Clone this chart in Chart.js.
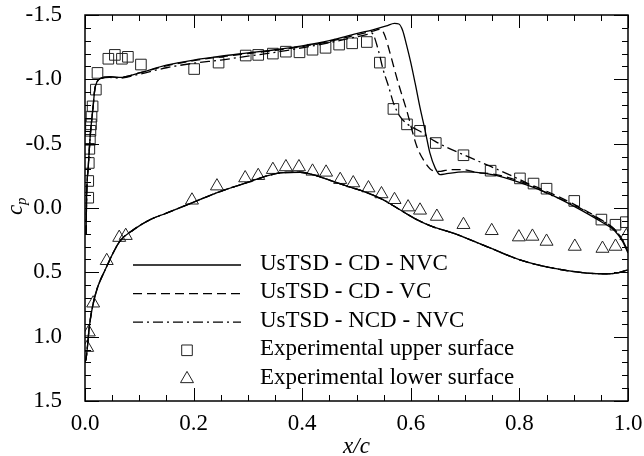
<!DOCTYPE html>
<html>
<head>
<meta charset="utf-8">
<script src="https://cdn.jsdelivr.net/npm/chart.js@4.4.0/dist/chart.umd.min.js"></script>
<style>
  html, body { margin: 0; padding: 0; background: #fff; }
  #wrap { width: 644px; height: 456px; }
</style>
</head>
<body>
<div id="wrap"><canvas id="cp-chart" width="644" height="456"></canvas></div>
<script>
// x/c and cp (cp axis is reversed, suction on top)

// UsTSD - CD - NVC, upper surface, leading edge -> trailing edge
const cdNvcUpperX = [0.002, 0.003, 0.006, 0.010, 0.015, 0.018, 0.022, 0.030, 0.045, 0.064, 0.100, 0.150, 0.200, 0.250, 0.300, 0.350, 0.400, 0.450, 0.500, 0.530, 0.555, 0.570, 0.578, 0.585, 0.592, 0.600, 0.608, 0.617, 0.626, 0.635, 0.645, 0.654, 0.666, 0.697, 0.721, 0.750, 0.800, 0.850, 0.900, 0.950, 0.975, 0.990, 1.000]
const cdNvcUpperCp = [0.21, -0.09, -0.32, -0.58, -0.79, -0.92, -0.98, -1.01, -1.02, -1.015, -1.05, -1.11, -1.15, -1.18, -1.205, -1.23, -1.26, -1.30, -1.355, -1.385, -1.415, -1.435, -1.43, -1.38, -1.27, -1.13, -0.97, -0.78, -0.61, -0.43, -0.31, -0.26, -0.267, -0.28, -0.277, -0.26, -0.20, -0.12, -0.015, 0.105, 0.175, 0.26, 0.35]

// UsTSD - CD - VC, upper surface
const cdVcUpperX = [0.002, 0.003, 0.006, 0.010, 0.015, 0.018, 0.022, 0.030, 0.045, 0.064, 0.100, 0.150, 0.200, 0.250, 0.300, 0.350, 0.400, 0.450, 0.500, 0.530, 0.545, 0.553, 0.562, 0.577, 0.592, 0.611, 0.623, 0.641, 0.655, 0.672, 0.697, 0.721, 0.750, 0.800, 0.850, 0.900, 0.950, 0.975, 0.990, 1.000]
const cdVcUpperCp = [0.21, -0.09, -0.32, -0.58, -0.79, -0.92, -0.98, -1.01, -1.02, -1.015, -1.05, -1.105, -1.145, -1.175, -1.20, -1.225, -1.255, -1.295, -1.345, -1.375, -1.39, -1.33, -1.20, -0.97, -0.765, -0.48, -0.376, -0.29, -0.285, -0.298, -0.298, -0.275, -0.265, -0.21, -0.13, -0.03, 0.09, 0.165, 0.25, 0.34]

// UsTSD - NCD - NVC, upper surface
const ncdNvcUpperX = [0.002, 0.003, 0.006, 0.010, 0.015, 0.018, 0.022, 0.030, 0.045, 0.064, 0.100, 0.150, 0.200, 0.250, 0.300, 0.350, 0.400, 0.450, 0.500, 0.520, 0.528, 0.540, 0.549, 0.559, 0.568, 0.580, 0.595, 0.617, 0.645, 0.697, 0.747, 0.801, 0.850, 0.900, 0.948, 0.975, 0.990, 1.000]
const ncdNvcUpperCp = [0.21, -0.09, -0.32, -0.58, -0.79, -0.92, -0.98, -1.005, -1.015, -1.01, -1.04, -1.09, -1.125, -1.15, -1.18, -1.21, -1.245, -1.285, -1.33, -1.35, -1.36, -1.23, -1.076, -0.946, -0.817, -0.712, -0.648, -0.596, -0.518, -0.414, -0.323, -0.22, -0.116, -0.025, 0.09, 0.165, 0.25, 0.34]

// lower surface, the three computations lie on top of each other
const lowerModelX = [0.000, 0.002, 0.004, 0.008, 0.018, 0.040, 0.064, 0.089, 0.120, 0.150, 0.197, 0.250, 0.304, 0.335, 0.365, 0.396, 0.427, 0.457, 0.488, 0.519, 0.549, 0.580, 0.611, 0.640, 0.678, 0.740, 0.801, 0.862, 0.924, 0.961, 0.985, 1.000]
const lowerModelCp = [1.20, 1.17, 1.10, 0.92, 0.69, 0.455, 0.26, 0.17, 0.09, 0.04, -0.04, -0.13, -0.205, -0.25, -0.275, -0.278, -0.25, -0.207, -0.163, -0.12, -0.064, 0.014, 0.09, 0.145, 0.195, 0.30, 0.403, 0.468, 0.506, 0.512, 0.50, 0.48]

// experiment
const upperExpX = [0.006, 0.006, 0.007, 0.008, 0.009, 0.010, 0.011, 0.012, 0.014, 0.020, 0.023, 0.043, 0.055, 0.068, 0.079, 0.103, 0.201, 0.246, 0.296, 0.319, 0.346, 0.370, 0.395, 0.419, 0.443, 0.468, 0.492, 0.519, 0.543, 0.568, 0.593, 0.617, 0.646, 0.697, 0.747, 0.801, 0.826, 0.850, 0.901, 0.951, 0.977, 0.996]
const upperExpCp = [-0.08, -0.21, -0.35, -0.46, -0.53, -0.60, -0.65, -0.71, -0.79, -0.92, -1.05, -1.16, -1.19, -1.16, -1.175, -1.115, -1.08, -1.13, -1.185, -1.19, -1.20, -1.215, -1.21, -1.23, -1.245, -1.27, -1.28, -1.29, -1.13, -0.77, -0.65, -0.60, -0.505, -0.41, -0.29, -0.23, -0.19, -0.15, -0.055, 0.09, 0.13, 0.11]
const lowerExpX = [0.004, 0.007, 0.015, 0.040, 0.063, 0.075, 0.197, 0.243, 0.295, 0.319, 0.346, 0.370, 0.394, 0.419, 0.444, 0.470, 0.494, 0.522, 0.546, 0.570, 0.595, 0.617, 0.648, 0.697, 0.749, 0.799, 0.824, 0.850, 0.902, 0.953, 0.977, 0.997]
const lowerExpCp = [1.085, 0.965, 0.74, 0.41, 0.23, 0.215, -0.06, -0.17, -0.233, -0.251, -0.298, -0.319, -0.319, -0.285, -0.277, -0.22, -0.194, -0.155, -0.109, -0.064, -0.007, 0.018, 0.066, 0.13, 0.177, 0.226, 0.221, 0.26, 0.299, 0.315, 0.299, 0.216]

const seriesLabels = ["UsTSD - CD - NVC", "UsTSD - CD - VC", "UsTSD - NCD - NVC", "Experimental upper surface", "Experimental lower surface"]
const xTicks = [0, 0.2, 0.4, 0.6, 0.8, 1.0]
const yTicks = [-1.5, -1.0, -0.5, 0.0, 0.5, 1.0, 1.5]

const FONT = "'Liberation Serif', 'Times New Roman', serif"

function toPoints(xs, ys) {
    return xs.map((x, i) => ({x: x, y: ys[i]}))
}

// upper and lower surface in one dataset, with a break between them
function surfaceCurve(upX, upCp) {
    return toPoints(upX, upCp).concat([{x: 0, y: null}], toPoints(lowerModelX, lowerModelCp))
}

function lineSet(label, data, dash) {
    return {
        label: label,
        data: data,
        borderColor: "#000",
        borderWidth: 1.3,
        borderDash: dash,
        pointRadius: 0,
        fill: false,
        spanGaps: false,
        cubicInterpolationMode: "monotone"
    }
}

function markerSet(label, data, style) {
    return {
        label: label,
        data: data,
        showLine: false,
        pointStyle: style,
        pointRadius: 7.5,
        pointBorderWidth: 1,
        pointBorderColor: "#222",
        pointBackgroundColor: "rgba(0,0,0,0)",
        borderColor: "#222",
        backgroundColor: "rgba(0,0,0,0)"
    }
}

// box, inward ticks on all four sides, axis titles and the legend inside the plot
const frameAndLegend = {
    id: "frameAndLegend",
    afterDraw(chart) {
        const ctx = chart.ctx
        const {left, right, top, bottom} = chart.chartArea
        const xs = chart.scales.x
        const ys = chart.scales.y

        function seg(x1, y1, x2, y2) {
            ctx.beginPath()
            ctx.moveTo(x1, y1)
            ctx.lineTo(x2, y2)
            ctx.stroke()
        }

        ctx.save()
        ctx.strokeStyle = "#000"
        ctx.setLineDash([])
        ctx.lineWidth = 1.5
        ctx.strokeRect(left, top, right - left, bottom - top)

        ctx.lineWidth = 1
        for (let i = 0; i <= 20; i++) {
            const v = i * 0.05
            const px = Math.round(xs.getPixelForValue(v)) + 0.5
            const len = i % 4 == 0 ? 13 : 6
            seg(px, bottom, px, bottom - len)
            seg(px, top, px, top + len)
        }
        for (let i = 0; i <= 30; i++) {
            const v = -1.5 + i * 0.1
            const py = Math.round(ys.getPixelForValue(v)) + 0.5
            const len = i % 5 == 0 ? 14 : 6
            seg(left, py, left + len, py)
            seg(right, py, right - len, py)
        }

        // axis titles
        ctx.fillStyle = "#000"
        ctx.font = "italic 23px " + FONT
        ctx.textAlign = "center"
        ctx.textBaseline = "middle"
        ctx.fillText("x/c", (left + right) / 2, 447)

        ctx.save()
        ctx.translate(16, (top + bottom) / 2 + 2)
        ctx.rotate(-Math.PI / 2)
        ctx.font = "italic 23px " + FONT
        ctx.fillText("c", 0, 0)
        ctx.font = "italic 15px " + FONT
        ctx.textAlign = "left"
        ctx.fillText("p", 5, 6)
        ctx.restore()

        // legend
        const x0 = left + 48
        const x1 = left + 156
        const textX = left + 175
        chart.data.datasets.forEach((ds, i) => {
            const y = top + 249.5 + i * 28.6
            ctx.strokeStyle = "#000"
            if (ds.showLine === false) {
                ctx.lineWidth = ds.pointBorderWidth
                ctx.strokeStyle = ds.pointBorderColor
                ctx.fillStyle = "rgba(0,0,0,0)"
                Chart.helpers.drawPoint(ctx, {pointStyle: ds.pointStyle, radius: ds.pointRadius, rotation: 0, borderWidth: 1}, (x0 + x1) / 2, y)
            } else {
                ctx.lineWidth = ds.borderWidth
                ctx.setLineDash(ds.borderDash)
                seg(x0, y + 0.5, x1, y + 0.5)
                ctx.setLineDash([])
            }
            ctx.fillStyle = "#000"
            ctx.font = "23px " + FONT
            ctx.textAlign = "left"
            ctx.textBaseline = "middle"
            ctx.fillText(ds.label, textX, y - 1)
        })
        ctx.restore()
    }
}

Chart.defaults.font.family = FONT
Chart.defaults.font.size = 23
Chart.defaults.color = "#000"

new Chart(document.getElementById("cp-chart"), {
    type: "line",
    data: {
        datasets: [
            lineSet(seriesLabels[0], surfaceCurve(cdNvcUpperX, cdNvcUpperCp), []),
            lineSet(seriesLabels[1], surfaceCurve(cdVcUpperX, cdVcUpperCp), [9, 5]),
            lineSet(seriesLabels[2], surfaceCurve(ncdNvcUpperX, ncdNvcUpperCp), [10, 4, 2, 4]),
            markerSet(seriesLabels[3], toPoints(upperExpX, upperExpCp), "rect"),
            markerSet(seriesLabels[4], toPoints(lowerExpX, lowerExpCp), "triangle")
        ]
    },
    options: {
        responsive: false,
        animation: false,
        layout: {padding: {top: 15, right: 16, left: 0, bottom: 0}},
        plugins: {
            legend: {display: false},
            tooltip: {enabled: false}
        },
        scales: {
            x: {
                type: "linear",
                min: 0,
                max: 1,
                grid: {display: false},
                border: {display: false},
                afterBuildTicks: s => { s.ticks = xTicks.map(v => ({value: v})) },
                ticks: {
                    padding: 1,
                    maxRotation: 0,
                    autoSkip: false,
                    callback: v => Number(v).toFixed(1)
                },
                afterFit: s => {
                    s.height = 55
                    s.paddingLeft = 0
                    s.paddingRight = 0
                }
            },
            y: {
                type: "linear",
                min: -1.5,
                max: 1.5,
                reverse: true,
                grid: {display: false},
                border: {display: false},
                afterBuildTicks: s => { s.ticks = yTicks.map(v => ({value: v})) },
                ticks: {
                    padding: 15,
                    autoSkip: false,
                    callback: v => Number(v).toFixed(1)
                },
                afterFit: s => {
                    s.width = 85
                    s.paddingTop = 0
                    s.paddingBottom = 0
                }
            }
        }
    },
    plugins: [frameAndLegend]
})
</script>
</body>
</html>
